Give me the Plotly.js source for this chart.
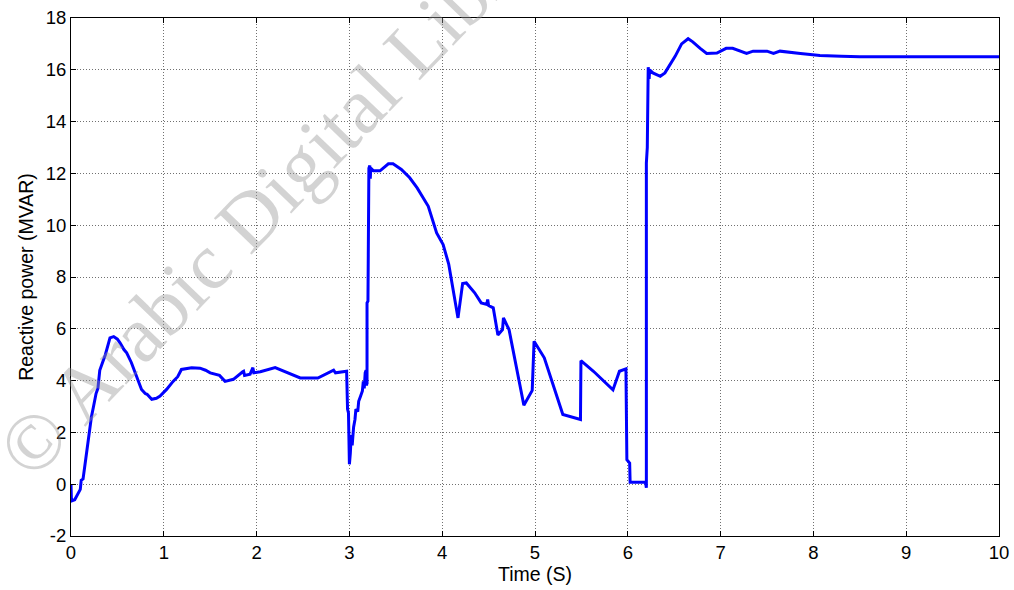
<!DOCTYPE html>
<html>
<head>
<meta charset="utf-8">
<script src="https://cdn.plot.ly/plotly-3.0.1.min.js"></script>
<style>
html,body{margin:0;padding:0;background:#fff;}
#chart{width:1014px;height:590px;}
</style>
</head>
<body>
<div id="chart"></div>
<script>
// Time (s)
const timeS = [
  0, 0.005, 0.04, 0.07, 0.1, 0.11, 0.13, 0.16, 0.18, 0.2, 0.21, 0.22, 0.24, 0.26, 0.27, 0.29,
  0.31, 0.34, 0.37, 0.42, 0.46, 0.5, 0.53, 0.57, 0.6, 0.65, 0.69, 0.73, 0.76, 0.8, 0.82, 0.87,
  0.92, 0.96, 1.03, 1.1, 1.15, 1.19, 1.3, 1.39, 1.45, 1.5, 1.57, 1.6, 1.66, 1.75, 1.85, 1.86,
  1.87, 1.93, 1.96, 1.97, 2.04, 2.2, 2.47, 2.66, 2.83, 2.85, 2.97, 2.98, 2.99, 3.0,
  3.01, 3.02, 3.03, 3.045, 3.06, 3.07, 3.09, 3.1, 3.12, 3.14, 3.15, 3.16, 3.17, 3.18, 3.185, 3.19,
  3.19, 3.19, 3.2, 3.21, 3.22, 3.225, 3.23, 3.26, 3.33, 3.42, 3.47, 3.56, 3.65, 3.73, 3.78, 3.85,
  3.94, 4.01, 4.07, 4.17, 4.22, 4.26, 4.35, 4.42, 4.48, 4.49, 4.5, 4.55, 4.6, 4.65, 4.66, 4.72,
  4.88, 4.97, 4.99, 5.1, 5.3, 5.49, 5.495, 5.63, 5.84, 5.91, 5.98, 5.99, 6.02, 6.025, 6.19, 6.2,
  6.2, 6.21, 6.22, 6.23, 6.235, 6.27, 6.35, 6.4, 6.51, 6.58, 6.65, 6.7, 6.78, 6.85, 6.96, 7.06,
  7.13, 7.28, 7.35, 7.5, 7.57, 7.64, 7.86, 8.07, 8.3, 8.5, 9.0, 10.0
];
// Reactive power (MVAR)
const reactiveMVAR = [
  0.0, -0.65, -0.6, -0.4, -0.2, 0.15, 0.2, 1.0, 1.5, 2.2, 2.25, 2.6, 2.95, 3.3, 3.5, 3.7,
  4.4, 4.7, 5.0, 5.65, 5.7, 5.6, 5.45, 5.2, 5.07, 4.7, 4.3, 3.9, 3.66, 3.5, 3.47, 3.28,
  3.32, 3.4, 3.66, 3.97, 4.15, 4.43, 4.5, 4.48, 4.4, 4.3, 4.22, 4.2, 3.97, 4.05, 4.34, 4.36,
  4.2, 4.25, 4.5, 4.3, 4.34, 4.5, 4.1, 4.1, 4.4, 4.3, 4.36, 2.9, 2.75, 0.77,
  1.2, 1.9, 1.5, 2.2, 2.5, 2.9, 2.8, 3.2, 3.4, 3.6, 3.97, 3.7, 4.3, 4.4, 3.8, 4.4,
  3.86, 7.0, 7.07, 12.2, 12.3, 11.8, 12.2, 12.1, 12.1, 12.37, 12.37, 12.15, 11.83, 11.44, 11.12, 10.73,
  9.7, 9.25, 8.5, 6.42, 7.75, 7.77, 7.39, 7.0, 6.94, 7.13, 6.9, 6.81, 5.76, 5.97, 6.42, 5.97,
  3.05, 3.62, 5.52, 4.88, 2.69, 2.5, 4.77, 4.36, 3.64, 4.36, 4.45, 0.95, 0.82, 0.08, 0.08, -0.14,
  12.4, 13.0, 16.1, 15.65, 16.0, 15.88, 15.75, 15.88, 16.52, 17.0, 17.2, 17.08, 16.83, 16.63, 16.65, 16.83,
  16.83, 16.63, 16.72, 16.72, 16.63, 16.72, 16.63, 16.55, 16.52, 16.5, 16.5, 16.5
];
const xTicks = [0,1,2,3,4,5,6,7,8,9,10];
const yTicks = [-2,0,2,4,6,8,10,12,14,16,18];
const xTitle = "Time (S)";
const yTitle = "Reactive power (MVAR)";
const watermark = "© Arabic Digital Library";

const trace = {
  x: timeS, y: reactiveMVAR, type: 'scatter', mode: 'lines',
  line: {color: '#0000ff', width: 3}, hoverinfo: 'skip'
};

const FONT = 'Liberation Sans, Arial, sans-serif';
const axisCommon = {
  showline: true, linecolor: '#000', linewidth: 1, mirror: 'allticks',
  ticks: 'inside', ticklen: 5, tickcolor: '#000', tickwidth: 1,
  showgrid: true, gridcolor: '#707070', gridwidth: 1, griddash: '1px,2px',
  zeroline: false,
  tickfont: {family: FONT, size: 18.5, color: '#000'}
};

const layout = {
  width: 1014, height: 590,
  margin: {l: 71, r: 15, t: 18, b: 54},
  paper_bgcolor: '#fff', plot_bgcolor: '#fff',
  showlegend: false,
  xaxis: Object.assign({}, axisCommon, {
    range: [0, 10], tickvals: xTicks, ticktext: xTicks.map(String),
    title: {text: xTitle, standoff: 2, font: {family: FONT, size: 19.5, color: '#000'}}
  }),
  yaxis: Object.assign({}, axisCommon, {
    range: [-2, 18], tickvals: yTicks, ticktext: yTicks.map(String),
    title: {text: yTitle, standoff: 6, font: {family: FONT, size: 19.5, color: '#000'}}
  }),
  annotations: [{
    text: watermark, xref: 'x', yref: 'y', x: 2.35, y: 11.85,
    showarrow: false, textangle: -46,
    font: {family: 'Liberation Serif, serif', size: 80, color: 'rgba(150,150,150,0.42)'},
    xanchor: 'center', yanchor: 'middle'
  }]
};

Plotly.newPlot('chart', [trace], layout, {displayModeBar: false, staticPlot: true});
</script>
</body>
</html>
